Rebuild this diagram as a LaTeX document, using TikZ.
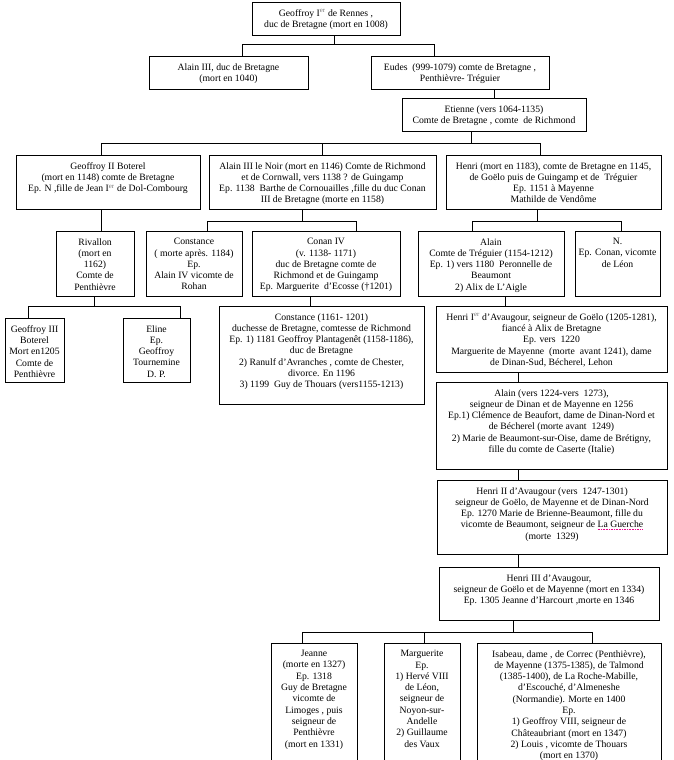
\documentclass[tikz,border=0pt]{standalone}
\usepackage{fontspec}
\setmainfont{Liberation Serif}
\tikzset{
  famline/.style={line width=0.8pt},
  fambox/.style={draw, line width=0.8pt, rectangle, inner sep=0pt},
  famtext/.style={align=center, inner sep=0pt, anchor=north, font=\fontsize{9.7}{11.3}\selectfont},
}
\newcommand\famnode[6]{%
  \node[fambox, minimum width={(#4-#2)*1pt}, minimum height={(#5-#3)*1pt}] (#1) at ({(#2+#4)/2},{(#3+#5)/2}) {};
  \node[famtext] (#1t) at ([yshift=-7.5pt]#1.north) {#6};
}
\newcommand\supER{{\color{black!55}\textsuperscript{er}}}
\newcommand\spellerr[1]{\leavevmode\setbox0\hbox{#1}\rlap{\raisebox{-2pt}{\hbox to \wd0{\xleaders\hbox{\textcolor{magenta}{\rule{0.8pt}{0.6pt}}\hskip0.8pt}\hfill}}}\box0}
\begin{document}
\begin{tikzpicture}[x=1pt,y=-1pt]
\useasboundingbox (0,0) rectangle (674,760);
\clip (0,0) rectangle (674,760);
\fill[white] (0,0) rectangle (674,760);

\famnode{b1}{252}{2}{400}{35}{Geoffroy I\supER{} de Rennes ,\\duc de Bretagne (mort en 1008)}
\famnode{b2}{149}{56}{308}{89}{Alain III, duc de Bretagne\\(mort en 1040)}
\famnode{b3}{371}{56}{549}{89}{Eudes\ \ (999-1079) comte de Bretagne ,\\Penthièvre- Tréguier}
\famnode{b4}{402}{98}{586}{131}{Etienne (vers 1064-1135)\\Comte de Bretagne , comte\ \ de Richmond}
\famnode{b5}{16}{155}{200}{209}{Geoffroy II Boterel\\(mort en 1148) comte de Bretagne\\Ep. N ,fille de Jean I\supER{} de Dol-Combourg}
\famnode{b6}{209}{155}{436}{209}{Alain III le Noir (mort en 1146) Comte de Richmond\\et de Cornwall, vers 1138 ? de Guingamp\\Ep. 1138\ \ Barthe de Cornouailles ,fille du duc Conan\\III de Bretagne (morte en 1158)}
\famnode{b7}{446}{155}{661}{209}{Henri (mort en 1183), comte de Bretagne en 1145,\\de Goëlo puis de Guingamp et de\ \ Tréguier\\Ep. 1151 à Mayenne\\Mathilde de Vendôme}
\famnode{b8}{56}{231}{134}{296}{Rivallon\\(mort en\\1162)\\Comte de\\Penthièvre}
\famnode{b9}{146}{231}{242}{296}{Constance\\( morte après. 1184)\\Ep.\\Alain IV vicomte de\\Rohan}
\famnode{b10}{252}{231}{400}{296}{Conan IV\\(v. 1138- 1171)\\duc de Bretagne comte de\\Richmond et de Guingamp\\Ep. Marguerite\ \ d’Ecosse (†1201)}
\famnode{b11}{418}{231}{564}{296}{Alain\\Comte de Tréguier (1154-1212)\\Ep. 1) vers 1180\ \ Peronnelle de\\Beaumont\\2) Alix de L’Aigle}
\famnode{b12}{575}{231}{660}{296}{N.\\Ep. Conan, vicomte\\de Léon}
\famnode{b13}{5}{318}{64}{382}{Geoffroy III\\Boterel\\Mort en1205\\Comte de\\Penthièvre}
\famnode{b14}{123}{318}{190}{382}{Eline\\Ep.\\Geoffroy\\Tournemine\\D. P.}
\famnode{b15}{219}{306}{424}{404}{Constance (1161- 1201)\\duchesse de Bretagne, comtesse de Richmond\\Ep. 1) 1181 Geoffroy Plantagenêt (1158-1186),\\duc de Bretagne\\2) Ranulf d’Avranches , comte de Chester,\\divorce. En 1196\\3) 1199\ \ Guy de Thouars (vers1155-1213)}
\famnode{b16}{436}{306}{667}{372}{Henri I\supER{} d’Avaugour, seigneur de Goëlo (1205-1281),\\fiancé à Alix de Bretagne\\Ep. vers\ \ 1220\\Marguerite de Mayenne\ \ (morte\ \ avant 1241), dame\\de Dinan-Sud, Bécherel, Lehon}
\famnode{b17}{436}{382}{667}{469}{Alain (vers 1224-vers\ \ 1273),\\seigneur de Dinan et de Mayenne en 1256\\Ep.1) Clémence de Beaufort, dame de Dinan-Nord et\\de Bécherel (morte avant\ \ 1249)\\2) Marie de Beaumont-sur-Oise, dame de Brétigny,\\fille du comte de Caserte (Italie)}
\famnode{b18}{437}{480}{667}{554}{Henri II d’Avaugour (vers\ \ 1247-1301)\\seigneur de Goëlo, de Mayenne et de Dinan-Nord\\Ep. 1270 Marie de Brienne-Beaumont, fille du\\vicomte de Beaumont, seigneur de \spellerr{La Guerche}\\(morte\ \ 1329)}
\famnode{b19}{439}{567}{659}{620}{Henri III d’Avaugour,\\seigneur de Goëlo et de Mayenne (mort en 1334)\\Ep. 1305 Jeanne d’Harcourt ,morte en 1346}
\famnode{b20}{271}{643}{357}{775}{Jeanne\\(morte en 1327)\\Ep. 1318\\Guy de Bretagne\\vicomte de\\Limoges , puis\\seigneur de\\Penthièvre\\(mort en 1331)}
\famnode{b21}{384}{643}{460}{775}{Marguerite\\Ep.\\1) Hervé VIII\\de Léon,\\seigneur de\\Noyon-sur-\\Andelle\\2) Guillaume\\des Vaux}
\famnode{b22}{477}{643}{661}{775}{Isabeau, dame , de Correc (Penthièvre),\\de Mayenne (1375-1385), de Talmond\\(1385-1400), de La Roche-Mabille,\\d’Escouché, d’Almeneshe\\(Normandie). Morte en 1400\\Ep.\\1) Geoffroy VIII, seigneur de\\Châteaubriant (mort en 1347)\\2) Louis , vicomte de Thouars\\(mort en 1370)}

% Geoffroy I -> Alain III, Eudes
\coordinate (g1m) at (334,44);
\coordinate (g1a) at (242,44);
\coordinate (g1b) at (434,44);
\draw[famline] (g1m |- b1.south) -- (g1m);
\draw[famline] (g1a |- b2.north) -- (g1a) -- (g1b) -- (g1b |- b3.north);
% Eudes -> Etienne
\coordinate (eu) at (494,93);
\draw[famline] (eu |- b3.south) -- (eu |- b4.north);
% Etienne -> three
\coordinate (etm) at (471,143);
\coordinate (eta) at (101,143);
\coordinate (etb) at (322,143);
\coordinate (etc) at (540,143);
\draw[famline] (etm |- b4.south) -- (etm);
\draw[famline] (eta |- b5.north) -- (eta) -- (etc) -- (etc |- b7.north);
\draw[famline] (etb) -- (etb |- b6.north);
% Geoffroy II -> Rivallon
\coordinate (g2) at (101,220);
\draw[famline] (g2 |- b5.south) -- (g2 |- b8.north);
% Alain le Noir -> Constance, Conan IV
\coordinate (anm) at (302,221);
\coordinate (ana) at (207,221);
\coordinate (anb) at (356,221);
\draw[famline] (anm |- b6.south) -- (anm);
\draw[famline] (ana |- b9.north) -- (ana) -- (anb) -- (anb |- b10.north);
% Henri -> Alain, N.
\coordinate (hm) at (537,221);
\coordinate (ha) at (472,221);
\coordinate (hb) at (621,221);
\draw[famline] (hm |- b7.south) -- (hm);
\draw[famline] (ha |- b11.north) -- (ha) -- (hb) -- (hb |- b12.north);
% Rivallon -> Geoffroy III, Eline
\coordinate (rm) at (94,306);
\coordinate (ra) at (28,306);
\coordinate (rb) at (180,306);
\draw[famline] (rm |- b8.south) -- (rm);
\draw[famline] (ra |- b13.north) -- (ra) -- (rb) -- (rb |- b14.north);
% Conan IV -> Constance
\coordinate (cn) at (310,300);
\draw[famline] (cn |- b10.south) -- (cn |- b15.north);
% Alain -> Henri I
\coordinate (al) at (505,300);
\draw[famline] (al |- b11.south) -- (al |- b16.north);
% Avaugour line
\coordinate (av) at (518,400);
\draw[famline] (av |- b16.south) -- (av |- b17.north);
\draw[famline] (av |- b17.south) -- (av |- b18.north);
\draw[famline] (av |- b18.south) -- (av |- b19.north);
% Henri III -> three daughters
\coordinate (h3m) at (513,632);
\coordinate (h3a) at (302,632);
\coordinate (h3b) at (424,632);
\coordinate (h3c) at (592,632);
\draw[famline] (h3m |- b19.south) -- (h3m);
\draw[famline] (h3a |- b20.north) -- (h3a) -- (h3c) -- (h3c |- b22.north);
\draw[famline] (h3b) -- (h3b |- b21.north);
\end{tikzpicture}
\end{document}
